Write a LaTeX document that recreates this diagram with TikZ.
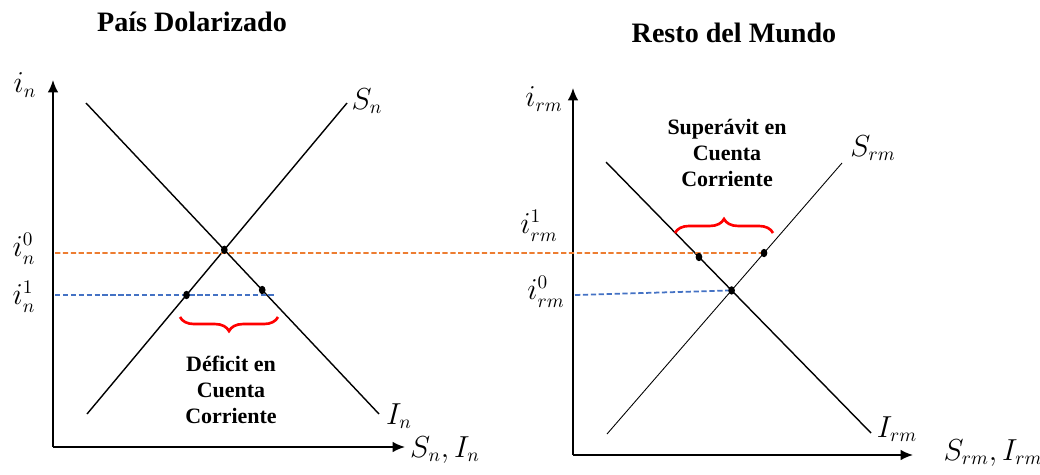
\documentclass[tikz,border=0pt]{standalone}
\usepackage{fontspec}
\setmainfont{Liberation Serif}
\usepackage{tikz}
\usetikzlibrary{arrows.meta,decorations.pathreplacing}

\definecolor{naranja}{RGB}{237,125,49}
\definecolor{azul}{RGB}{68,114,196}

\tikzset{
  eje/.style={line width=1pt,-{Latex[length=7pt,width=6pt]}},
  curva/.style={line width=0.8pt},
  nivel/.style={line width=1pt,dash pattern=on 3pt off 1.5pt},
  llave/.style={red,line width=1.5pt,decorate,decoration={brace,amplitude=8pt}},
  lbl/.style={font=\fontsize{16}{18}\selectfont,inner sep=0pt},
  titulo/.style={font=\fontsize{16}{19}\selectfont\bfseries},
  nota/.style={font=\fontsize{12.5}{15}\selectfont\bfseries,align=center}
}

\begin{document}
\begin{tikzpicture}[x=0.02cm,y=-0.02cm]
\useasboundingbox (0,0) rectangle (1040,474);

%% Pais dolarizado
\coordinate (O1) at (53,447);
\coordinate (Y1) at (53,80);
\coordinate (X1) at (405,447);
\draw[eje] (O1) -- (Y1);
\draw[eje] (O1) -- (X1);

\coordinate (Sa) at (87,414);  \coordinate (Sb) at (347,103);
\coordinate (Ia) at (86,103);  \coordinate (Ib) at (379,414);
\draw[curva] (Sa) -- (Sb);
\draw[curva] (Ia) -- (Ib);

\node[titulo] (tit1) at (192,22) {País Dolarizado};
\node[lbl] (in) at (25,85) {$i_n$};
\node[lbl] (in0) at (24,249) {$i_n^0$};
\node[lbl] (in1) at (24,297) {$i_n^1$};
\node[lbl] (Sn) at (367,101) {$S_n$};
\node[lbl] (In) at (399,416) {$I_n$};
\node[lbl] (SnIn) at (445,450) {$S_n,I_n$};

%% Resto del mundo
\coordinate (O2) at (573,455);
\coordinate (Y2) at (573,88);
\coordinate (X2) at (913,455);
\draw[eje] (O2) -- (Y2);
\draw[eje] (O2) -- (X2);

\coordinate (Ra) at (607,434); \coordinate (Rb) at (842,163);
\coordinate (Ja) at (606,162); \coordinate (Jb) at (871,433);
\draw[line width=0.5pt] (Ra) -- (Rb);
\draw[curva] (Ja) -- (Jb);

\node[titulo] (tit2) at (734,33) {Resto del Mundo};
\node[lbl] (irm) at (544,99) {$i_{rm}$};
\node[lbl] (irm1) at (539,226) {$i_{rm}^1$};
\node[lbl] (irm0) at (546,292) {$i_{rm}^0$};
\node[lbl] (Srm) at (873,148) {$S_{rm}$};
\node[lbl] (Irm) at (897,429) {$I_{rm}$};
\node[lbl] (SrmIrm) at (993,453) {$S_{rm},I_{rm}$};

%% niveles de tasa
\coordinate (E1) at (intersection of Sa--Sb and Ia--Ib);
\coordinate (E2) at (intersection of Ra--Rb and Ja--Jb);
\coordinate (A0) at (55,253);
\coordinate (A1) at (55,295);
\coordinate (A2) at (275,295);
\coordinate (B0) at (575,295);
\coordinate (P1) at (intersection of Sa--Sb and 55,295--300,295);
\coordinate (Q1) at (intersection of Ia--Ib and 55,290--300,290);
\coordinate (P2) at (intersection of Ja--Jb and 580,257--800,257);
\coordinate (Q2) at (intersection of Ra--Rb and 580,253--800,253);

\draw[nivel,naranja] (A0) -- (Q2);
\draw[nivel,azul] (A1) -- (A2);
\draw[nivel,azul] (B0) -- (E2);

\foreach \p in {E1,P1,Q1,E2,P2,Q2}
  \fill (\p) ellipse (1.9pt and 2.4pt);

%% cuenta corriente
\coordinate (L1) at (278,317); \coordinate (L2) at (180,317);
\coordinate (R1) at (675,233); \coordinate (R2) at (773,233);
\draw[llave] (L1) -- (L2);
\node[nota] (def) at (231,390) {Déficit en\\Cuenta\\Corriente};
\draw[llave] (R1) -- (R2);
\node[nota] (sup) at (727,153) {Superávit en\\Cuenta\\Corriente};
\end{tikzpicture}
\end{document}
